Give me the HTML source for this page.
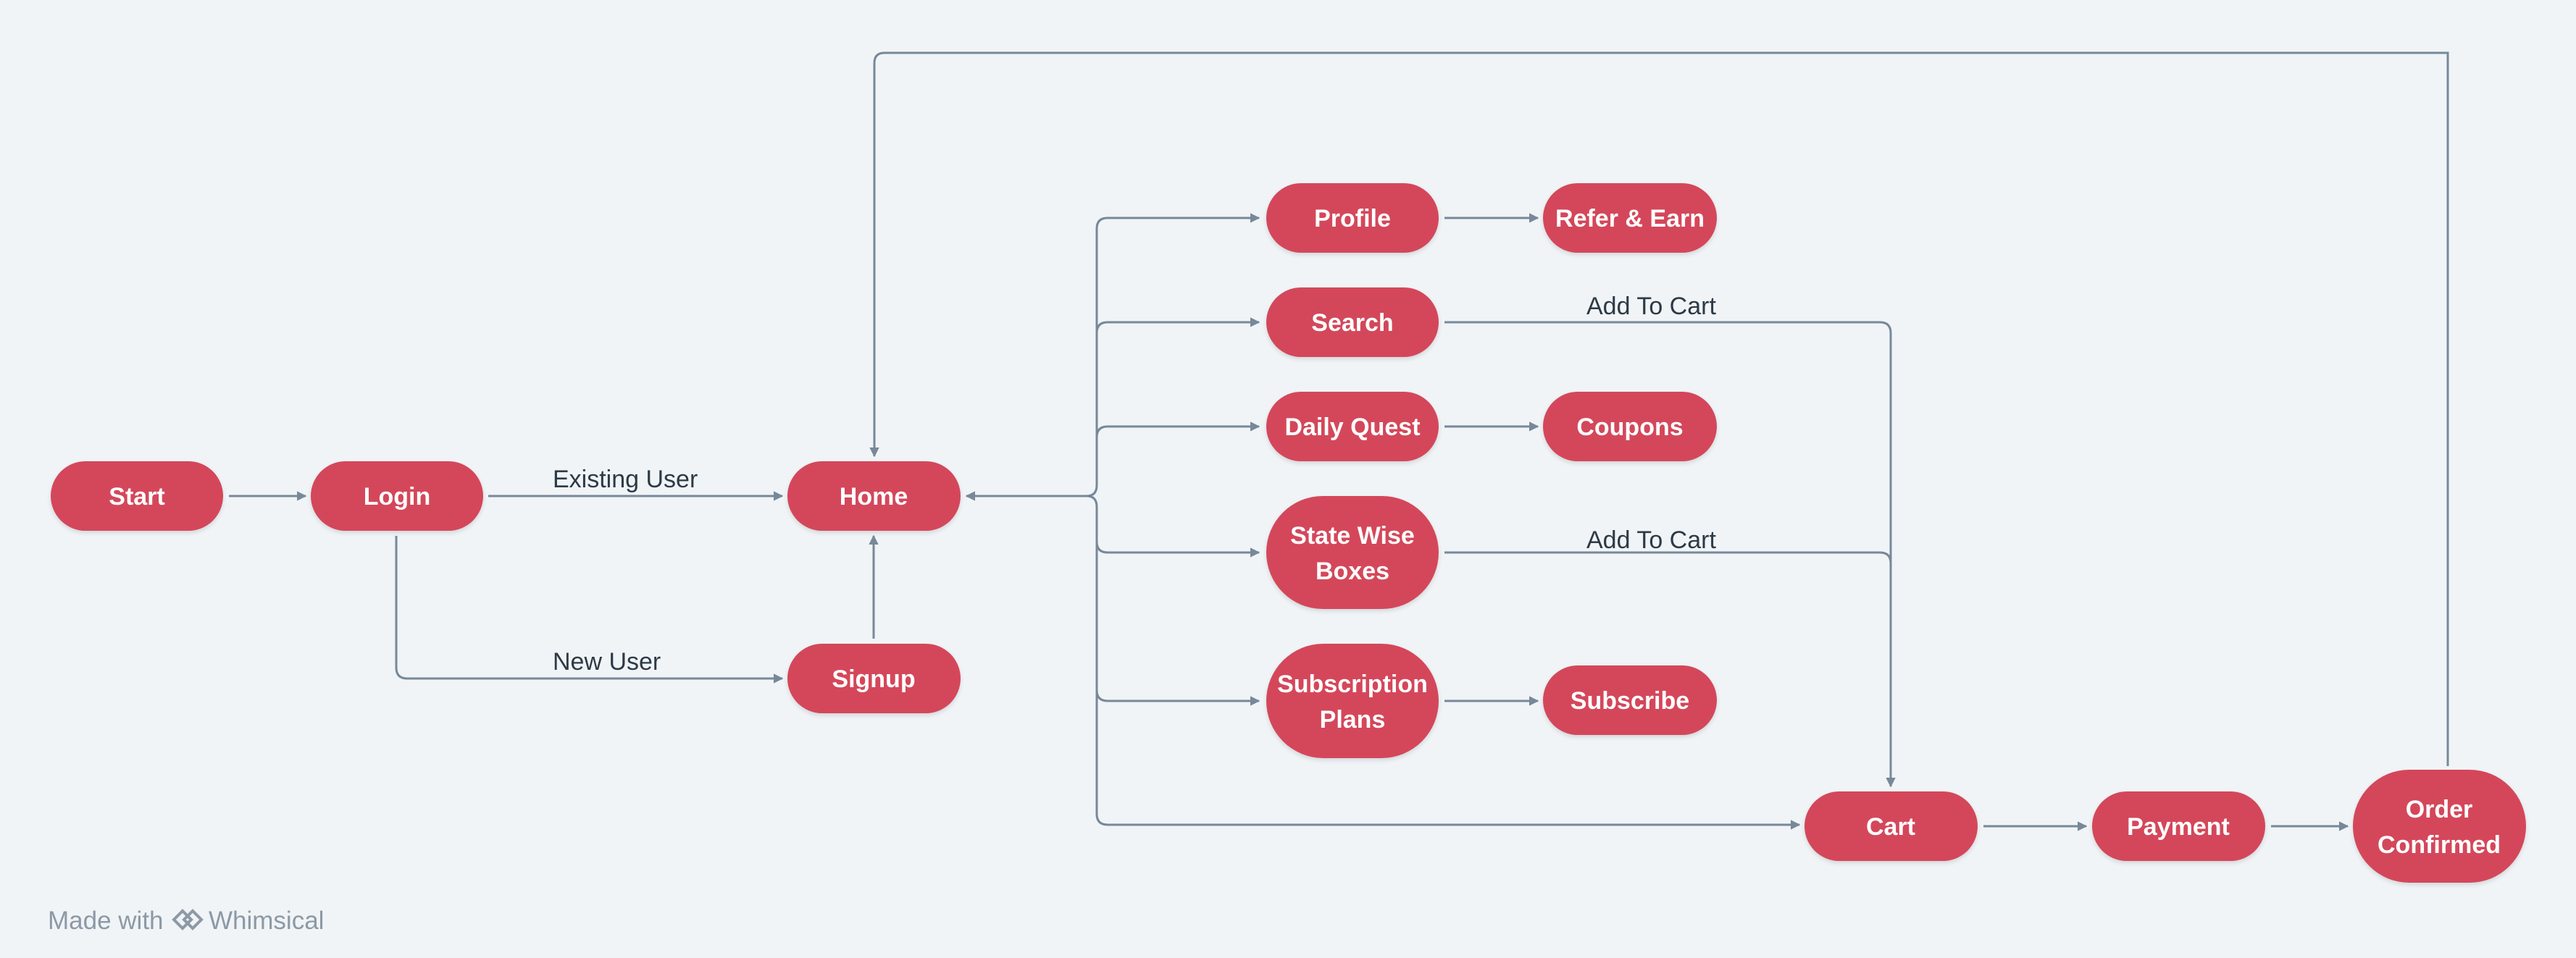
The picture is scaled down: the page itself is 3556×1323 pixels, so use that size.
<!DOCTYPE html>
<html><head><meta charset="utf-8"><style>
html,body{margin:0;padding:0;background:#f0f4f7;}
svg{display:block}
.n{fill:#d4465a;filter:url(#sh)}
.t{font-family:"Liberation Sans",sans-serif;font-weight:bold;font-size:34px;fill:#fff;text-anchor:middle}
.l{font-family:"Liberation Sans",sans-serif;font-size:34px;fill:#2d3a45}
.c{fill:none;stroke:#778899;stroke-width:3}
</style></head><body>
<svg width="3556" height="1323" viewBox="0 0 3556 1323" xmlns="http://www.w3.org/2000/svg">
<defs>
<filter id="sh" x="-10%" y="-10%" width="120%" height="130%"><feDropShadow dx="0" dy="3" stdDeviation="3" flood-color="#000" flood-opacity="0.12"/></filter>
<marker id="a" viewBox="0 0 10 10" refX="9" refY="5" markerWidth="4.5" markerHeight="4.5" orient="auto" markerUnits="strokeWidth"><path d="M0,0 L10,5 L0,10 z" fill="#778899"/></marker>
</defs>
<rect width="3556" height="1323" fill="#f0f4f7"/>
<path class="c" marker-end="url(#a)" d="M316,685 H422"/>
<path class="c" marker-end="url(#a)" d="M674,685 H1080"/>
<path class="c" marker-end="url(#a)" d="M547,740 V922 Q547,937 562,937 H1080"/>
<path class="c" marker-end="url(#a)" d="M1206,882 V740"/>
<path class="c" marker-end="url(#a)" d="M3379,1058 V73 H1221 Q1207,73 1207,87 V630"/>
<path class="c" marker-end="url(#a)" d="M1500,685 H1334"/>
<path class="c" d="M1500,685 Q1514,685 1514,670 V316 Q1514,301 1529,301 H1738" marker-end="url(#a)"/>
<path class="c" marker-end="url(#a)" d="M1514,460 Q1514,445 1529,445 H1738"/>
<path class="c" marker-end="url(#a)" d="M1514,604 Q1514,589 1529,589 H1738"/>
<path class="c" d="M1500,685 Q1514,685 1514,700 V1124 Q1514,1139 1529,1139 H2484" marker-end="url(#a)"/>
<path class="c" marker-end="url(#a)" d="M1514,748 Q1514,763 1529,763 H1738"/>
<path class="c" marker-end="url(#a)" d="M1514,953 Q1514,968 1529,968 H1738"/>
<path class="c" marker-end="url(#a)" d="M1994,301 H2123"/>
<path class="c" marker-end="url(#a)" d="M1994,589 H2123"/>
<path class="c" marker-end="url(#a)" d="M1994,968 H2123"/>
<path class="c" d="M1994,445 H2595 Q2610,445 2610,460 V1086" marker-end="url(#a)"/>
<path class="c" d="M1994,763 H2595 Q2610,763 2610,778"/>
<path class="c" marker-end="url(#a)" d="M2738,1141 H2880"/>
<path class="c" marker-end="url(#a)" d="M3135,1141 H3241"/>
<text class="l" x="763" y="673">Existing User</text>
<text class="l" x="763" y="925">New User</text>
<text class="l" x="2190" y="434">Add To Cart</text>
<text class="l" x="2190" y="757">Add To Cart</text>
<rect class="n" x="70" y="637" width="238" height="96" rx="48"/><text class="t" x="189" y="697">Start</text>
<rect class="n" x="429" y="637" width="238" height="96" rx="48"/><text class="t" x="548" y="697">Login</text>
<rect class="n" x="1087" y="637" width="239" height="96" rx="48"/><text class="t" x="1206" y="697">Home</text>
<rect class="n" x="1087" y="889" width="239" height="96" rx="48"/><text class="t" x="1206" y="949">Signup</text>
<rect class="n" x="1748" y="253" width="238" height="96" rx="48"/><text class="t" x="1867" y="313">Profile</text>
<rect class="n" x="2130" y="253" width="240" height="96" rx="48"/><text class="t" x="2250" y="313">Refer &amp; Earn</text>
<rect class="n" x="1748" y="397" width="238" height="96" rx="48"/><text class="t" x="1867" y="457">Search</text>
<rect class="n" x="1748" y="541" width="238" height="96" rx="48"/><text class="t" x="1867" y="601">Daily Quest</text>
<rect class="n" x="2130" y="541" width="240" height="96" rx="48"/><text class="t" x="2250" y="601">Coupons</text>
<rect class="n" x="1748" y="685" width="238" height="156" rx="78"/><text class="t" x="1867" y="751">State Wise</text><text class="t" x="1867" y="800">Boxes</text>
<rect class="n" x="1748" y="889" width="238" height="158" rx="79"/><text class="t" x="1867" y="956">Subscription</text><text class="t" x="1867" y="1005">Plans</text>
<rect class="n" x="2130" y="919" width="240" height="96" rx="48"/><text class="t" x="2250" y="979">Subscribe</text>
<rect class="n" x="2491" y="1093" width="239" height="96" rx="48"/><text class="t" x="2610" y="1153">Cart</text>
<rect class="n" x="2888" y="1093" width="239" height="96" rx="48"/><text class="t" x="3007" y="1153">Payment</text>
<rect class="n" x="3248" y="1063" width="239" height="156" rx="78"/><text class="t" x="3367" y="1129">Order</text><text class="t" x="3367" y="1178">Confirmed</text>
<text x="66" y="1283" font-family="Liberation Sans, sans-serif" font-size="35" fill="#8d99a5">Made with</text>
<path d="M240,1270 l12,-12 l12,12 l-12,12 z M254,1270 l12,-12 l12,12 l-12,12 z" fill="none" stroke="#8d99a5" stroke-width="4"/>
<text x="288" y="1283" font-family="Liberation Sans, sans-serif" font-size="35" fill="#8d99a5">Whimsical</text>
</svg>
</body></html>
